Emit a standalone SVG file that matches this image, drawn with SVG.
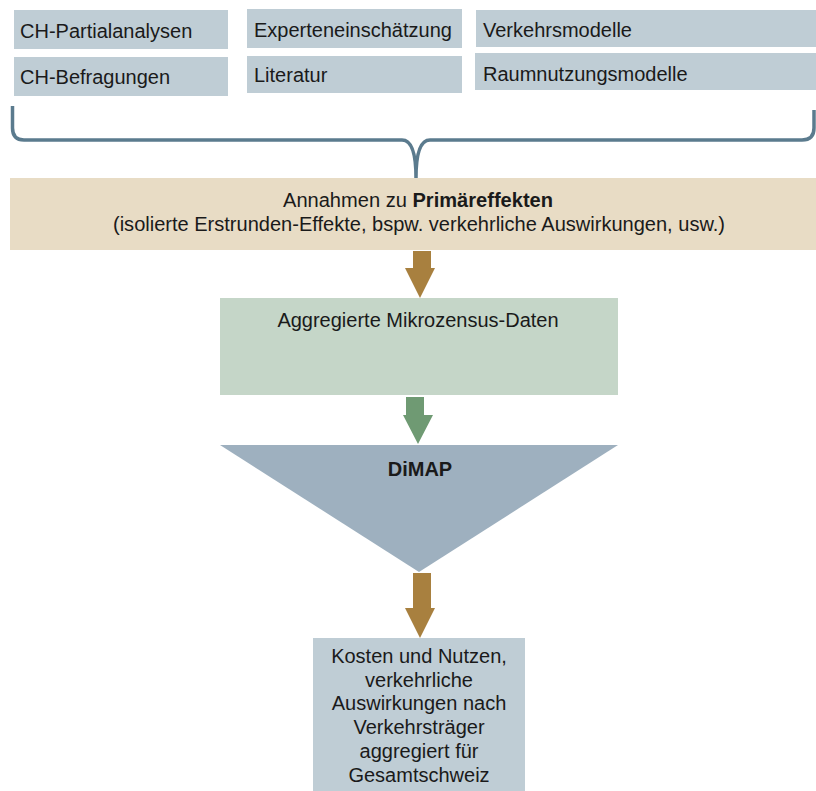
<svg xmlns="http://www.w3.org/2000/svg" width="816" height="791" viewBox="0 0 816 791">
<style>
text{font-family:"Liberation Sans",Arial,sans-serif;font-size:20px;fill:#1a1a1a}
.src{fill:#bfcdd5}
.c{text-anchor:middle}
.b{font-weight:bold}
.brown{fill:#a8803f}
.green{fill:#6f9a73}
</style>
<rect width="816" height="791" fill="#ffffff"/>
<g id="src-ch-partial"><rect class="src" x="14" y="10" width="214" height="39"/><text x="20" y="38">CH-Partialanalysen</text></g>
<g id="src-ch-befragungen"><rect class="src" x="14" y="57" width="214" height="39"/><text x="20" y="84">CH-Befragungen</text></g>
<g id="src-experten"><rect class="src" x="247" y="9" width="215" height="39"/><text x="254" y="37">Experteneinschätzung</text></g>
<g id="src-literatur"><rect class="src" x="247" y="56" width="215" height="37"/><text x="254" y="82">Literatur</text></g>
<g id="src-verkehrsmodelle"><rect class="src" x="476" y="10" width="340" height="37"/><text x="483" y="37">Verkehrsmodelle</text></g>
<g id="src-raumnutzung"><rect class="src" x="475" y="53" width="341" height="37"/><text x="483" y="81">Raumnutzungsmodelle</text></g>
<g id="brace"><path d="M12.5 106 V128 Q12.5 140 24 140 H402 Q416 140 416 178 Q416 140 430 140 H802 Q814 140 814 128 V110" fill="none" stroke="#5b7b8e" stroke-width="3.5"/></g>
<g id="primaer"><rect x="10" y="178" width="806" height="72" fill="#e8dcc5"/>
<text class="c" x="418" y="207" textLength="270" lengthAdjust="spacingAndGlyphs">Annahmen zu <tspan class="b">Primäreffekten</tspan></text>
<text class="c" x="419" y="231" textLength="612" lengthAdjust="spacingAndGlyphs">(isolierte Erstrunden-Effekte, bspw. verkehrliche Auswirkungen, usw.)</text></g>
<g id="mikrozensus"><rect x="220" y="298" width="398" height="97" fill="#c5d6c8"/><text class="c" x="418" y="327">Aggregierte Mikrozensus-Daten</text></g>
<g id="dimap"><polygon points="220,445 618,445 419,572" fill="#9eb0bf"/><text class="c b" x="420" y="476">DiMAP</text></g>
<g id="ergebnis"><rect x="313" y="638" width="212" height="153" fill="#bfcdd5"/>
<text class="c" x="419" y="663">Kosten und Nutzen,</text>
<text class="c" x="419" y="687">verkehrliche</text>
<text class="c" x="419" y="710">Auswirkungen nach</text>
<text class="c" x="419" y="734">Verkehrsträger</text>
<text class="c" x="419" y="758">aggregiert für</text>
<text class="c" x="419" y="782">Gesamtschweiz</text></g>
<g id="connectors">
<polygon class="brown" points="413,251 431,251 431,268 435,268 420,298 405,268 413,268"/>
<polygon class="green" points="406,397 424,397 424,415 433,415 418,444 403,415 406,415"/>
<polygon class="brown" points="413,573 431,573 431,608 435,608 420,638 405,608 413,608"/>
</g>
</svg>
